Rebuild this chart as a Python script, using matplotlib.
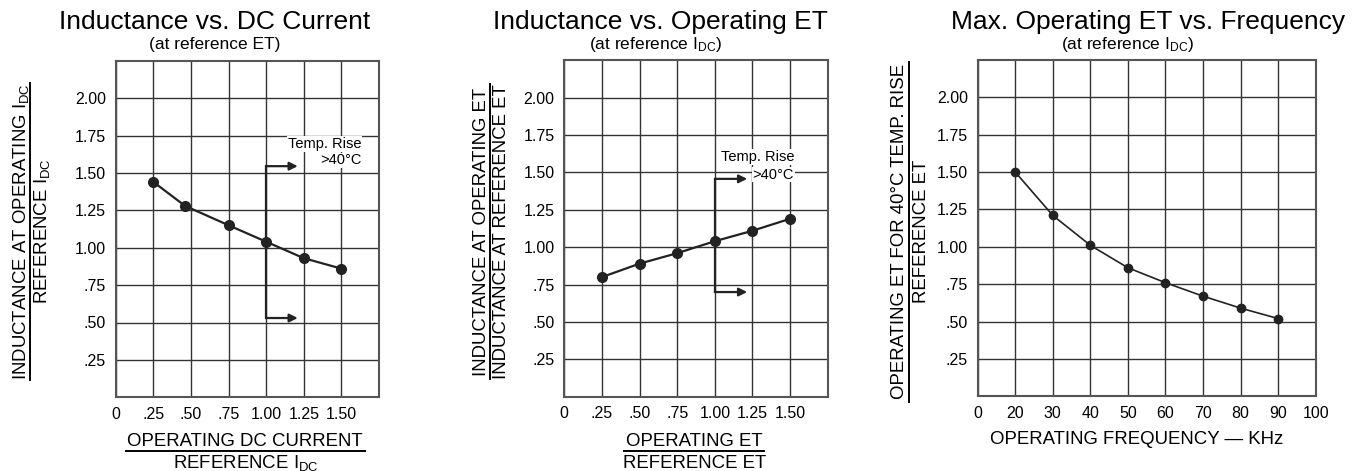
import numpy as np
import matplotlib
matplotlib.use('Agg')
import matplotlib.pyplot as plt

plt.rcParams['font.family'] = ['Liberation Sans', 'DejaVu Sans']
plt.rcParams['mathtext.fontset'] = 'custom'
plt.rcParams['mathtext.rm'] = 'Liberation Sans'
plt.rcParams['mathtext.default'] = 'regular'

# Data
idc_ratio = [0.25, 0.46, 0.75, 1.00, 1.25, 1.50]
l_vs_idc = [1.44, 1.28, 1.15, 1.04, 0.93, 0.86]

et_ratio = [0.25, 0.50, 0.75, 1.00, 1.25, 1.50]
l_vs_et = [0.80, 0.89, 0.96, 1.04, 1.11, 1.19]

freq_khz = [20, 30, 40, 50, 60, 70, 80, 90]
et_vs_freq = [1.50, 1.21, 1.01, 0.86, 0.76, 0.67, 0.59, 0.52]

ratio_ticks = [0, 0.25, 0.5, 0.75, 1.0, 1.25, 1.5]
ratio_labels = ['0', '.25', '.50', '.75', '1.00', '1.25', '1.50']
y_ticks = [0.25, 0.5, 0.75, 1.0, 1.25, 1.5, 1.75, 2.0]
y_labels = ['.25', '.50', '.75', '1.00', '1.25', '1.50', '1.75', '2.00']
freq_ticks = [0, 20, 30, 40, 50, 60, 70, 80, 90, 100]

W, H = 1362, 471
fig = plt.figure(figsize=(W / 100, H / 100), dpi=100)


def fx(x):
    return x / W


def fy(y):
    return 1 - y / H


def make_axes(left, right, top, bottom):
    ax = fig.add_axes([fx(left), fy(bottom), (right - left) / W, (bottom - top) / H])
    ax.set_ylim(0, 2.25)
    ax.set_yticks(y_ticks)
    ax.set_yticklabels(y_labels)
    ax.tick_params(length=0, pad=7, labelsize=11.5)
    ax.grid(True, color='#333333', lw=1.0)
    ax.set_axisbelow(True)
    for s in ax.spines.values():
        s.set_color('#555555')
        s.set_linewidth(1.5)
    return ax


def temp_arrow(ax, y_top, y_bot, x_end, t1, t2):
    ax.plot([1.0, 1.0], [y_top, y_bot], color='#222222', lw=1.6, zorder=3)
    for yy in (y_top, y_bot):
        ax.annotate('', xy=(x_end, yy), xytext=(1.0, yy),
                    arrowprops=dict(arrowstyle='-|>', color='#222222', lw=1.6,
                                    mutation_scale=12, shrinkA=0, shrinkB=0),
                    zorder=3)
    ax.text(t1[0], t1[1], 'Temp. Rise', fontsize=10.5, ha='center', va='center',
            bbox=dict(fc='white', ec='none', pad=0.5), zorder=4)
    ax.text(t2[0], t2[1], '>40°C', fontsize=10.5, ha='right', va='center',
            bbox=dict(fc='white', ec='none', pad=0.5), zorder=4)


def hline(x0, x1, y, lw=1.4):
    fig.add_artist(plt.Line2D([fx(x0), fx(x1)], [fy(y), fy(y)], color='black', lw=lw))


def vline(x, y0, y1, lw=1.4):
    fig.add_artist(plt.Line2D([fx(x), fx(x)], [fy(y0), fy(y1)], color='black', lw=lw))


# Panel 1
ax1 = make_axes(115.7, 379, 60.7, 397.3)
ax1.set_xlim(0, 1.75)
ax1.set_xticks(ratio_ticks)
ax1.set_xticklabels(ratio_labels)
ax1.plot(idc_ratio, l_vs_idc, color='#222222', lw=1.6, marker='o', ms=7, zorder=3)
temp_arrow(ax1, 1.545, 0.53, 1.21, (1.39, 1.693), (1.635, 1.583))

# Panel 2
ax2 = make_axes(564.3, 827.7, 60.3, 396.7)
ax2.set_xlim(0, 1.75)
ax2.set_xticks(ratio_ticks)
ax2.set_xticklabels(ratio_labels)
ax2.plot(et_ratio, l_vs_et, color='#222222', lw=1.6, marker='o', ms=7, zorder=3)
temp_arrow(ax2, 1.457, 0.70, 1.215, (1.287, 1.604), (1.525, 1.486))

# Panel 3
def f_fwd(f):
    f = np.asarray(f, dtype=float)
    return np.where(f < 20, f / 20, (f - 10) / 10)


def f_inv(p):
    p = np.asarray(p, dtype=float)
    return np.where(p < 1, p * 20, p * 10 + 10)


ax3 = make_axes(977.7, 1315.7, 60, 396.3)
ax3.set_xscale('function', functions=(f_fwd, f_inv))
ax3.set_xlim(0, 100)
ax3.set_xticks(freq_ticks)
ax3.set_xticklabels([str(t) for t in freq_ticks])
ax3.xaxis.set_minor_locator(matplotlib.ticker.NullLocator())
ax3.plot(freq_khz, et_vs_freq, color='#222222', lw=1.2, marker='o', ms=6, zorder=3)

# Titles
fig.text(fx(214.5), fy(22), 'Inductance vs. DC Current', fontsize=19, ha='center', va='center')
fig.text(fx(215), fy(45), '(at reference ET)', fontsize=12.5, ha='center', va='center')
fig.text(fx(660), fy(22), 'Inductance vs. Operating ET', fontsize=19, ha='center', va='center')
fig.text(fx(656), fy(45), r'(at reference I$_{DC}$)', fontsize=12.5, ha='center', va='center')
fig.text(fx(1148), fy(22), 'Max. Operating ET vs. Frequency', fontsize=19, ha='center', va='center')
fig.text(fx(1128), fy(45), r'(at reference I$_{DC}$)', fontsize=12.5, ha='center', va='center')

# Y labels (fractions)
fig.text(fx(21), fy(232), r'INDUCTANCE AT OPERATING I$_{DC}$', fontsize=13.4,
         rotation=90, ha='center', va='center')
vline(30, 83, 380)
fig.text(fx(42), fy(231), r'REFERENCE I$_{DC}$', fontsize=13.4,
         rotation=90, ha='center', va='center')

fig.text(fx(481), fy(232), 'INDUCTANCE AT OPERATING ET', fontsize=13.4,
         rotation=90, ha='center', va='center')
vline(490, 84, 379)
fig.text(fx(502), fy(232), 'INDUCTANCE AT REFERENCE ET', fontsize=13.4,
         rotation=90, ha='center', va='center')

fig.text(fx(899), fy(231), 'OPERATING ET FOR 40°C TEMP. RISE', fontsize=13.4,
         rotation=90, ha='center', va='center')
vline(909, 61.7, 401.7)
fig.text(fx(921), fy(231), 'REFERENCE ET', fontsize=13.4,
         rotation=90, ha='center', va='center')

# X labels
fig.text(fx(245), fy(441), 'OPERATING DC CURRENT', fontsize=13.4, ha='center', va='center')
hline(126, 365, 450.7)
fig.text(fx(246), fy(463), r'REFERENCE I$_{DC}$', fontsize=13.4, ha='center', va='center')

fig.text(fx(694), fy(441), 'OPERATING ET', fontsize=13.4, ha='center', va='center')
hline(624, 764, 450.7)
fig.text(fx(694.5), fy(463), 'REFERENCE ET', fontsize=13.4, ha='center', va='center')

fig.text(fx(1136.7), fy(440), 'OPERATING FREQUENCY — KHz', fontsize=13.4, ha='center', va='center')

plt.savefig('out.png', dpi=100)
